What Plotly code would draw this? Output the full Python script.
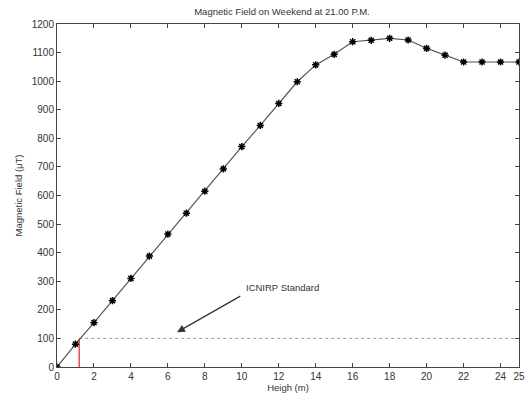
import plotly.graph_objects as go

heights = list(range(0, 26))
field = [0, 80, 155, 232, 310, 388, 465, 538, 615, 693, 771, 845, 922, 998,
         1057, 1094, 1138, 1143, 1150, 1144, 1115, 1091, 1067, 1067, 1067, 1067]
std_level = 100
std_cross = 1.2
x_ticks = [0, 2, 4, 6, 8, 10, 12, 14, 16, 18, 20, 22, 24, 25]
y_ticks = list(range(0, 1300, 100))

font = "Liberation Sans, Arial, sans-serif"
fig = go.Figure()
fig.add_trace(go.Scatter(x=[std_cross, 25], y=[std_level, std_level], mode="lines",
                         line=dict(color="#999999", width=1, dash="dot"), hoverinfo="skip"))
fig.add_trace(go.Scatter(x=[std_cross, std_cross], y=[0, std_level], mode="lines",
                         line=dict(color="#dd2222", width=1.2), hoverinfo="skip"))
fig.add_trace(go.Scatter(x=heights, y=field, mode="lines+markers",
                         line=dict(color="#555555", width=1.2),
                         marker=dict(symbol="asterisk-open", size=6, color="black",
                                     line=dict(color="black", width=1.5))))
fig.add_annotation(x=6.5, y=122, ax=10.0, ay=251, xref="x", yref="y", axref="x", ayref="y",
                   text="", showarrow=True, arrowhead=2, arrowsize=1.3, arrowwidth=1.2,
                   arrowcolor="#333333")
fig.add_annotation(x=10.1, y=279, xref="x", yref="y", text="ICNIRP Standard",
                   showarrow=False, xanchor="left", font=dict(size=9.5, color="#333333", family=font))

axis = dict(showline=True, linecolor="#444444", linewidth=1, mirror="ticks", ticks="inside",
            ticklen=4, tickcolor="#444444", showgrid=False, zeroline=False, automargin=False,
            tickfont=dict(size=10, color="#333333", family=font))
fig.update_layout(
    width=529, height=401, margin=dict(l=57, r=10, t=24, b=34),
    paper_bgcolor="white", plot_bgcolor="white", showlegend=False,
    title=dict(text="Magnetic Field on Weekend at 21.00 P.M.", x=0.533, xanchor="center",
               y=0.98, yanchor="top", font=dict(size=9.5, color="#333333", family=font)),
    xaxis=dict(axis, range=[0, 25], tickvals=x_ticks, ticklabelstandoff=0,
               title=dict(text="Heigh (m)", standoff=1, font=dict(size=9.5, color="#333333", family=font))),
    yaxis=dict(axis, range=[0, 1200], tickvals=y_ticks,
               title=dict(text="Magnetic Field (μT)", standoff=7, font=dict(size=9.5, color="#333333", family=font))),
)
fig.write_html("out.html", config={"displayModeBar": False},
               post_script="document.body.style.margin='0px';document.body.style.overflow='hidden';")
